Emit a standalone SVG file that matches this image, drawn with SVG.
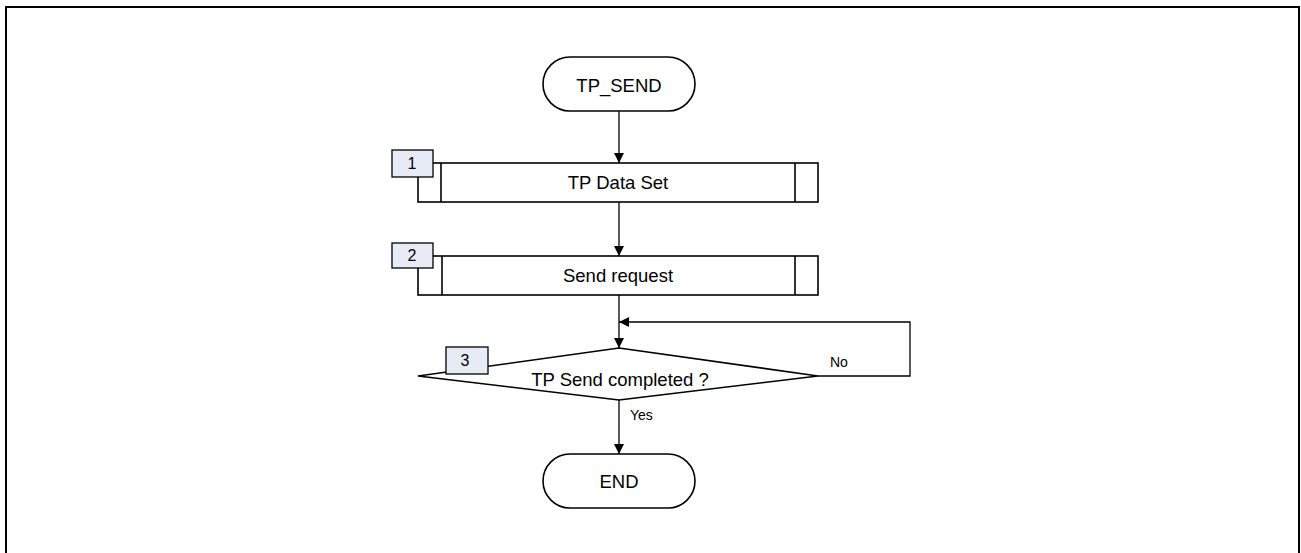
<svg xmlns="http://www.w3.org/2000/svg" width="1301" height="553" viewBox="0 0 1301 553">
<style>
.frame{fill:none;stroke:#000;stroke-width:2}
.shape{fill:#fff;stroke:#000;stroke-width:1.6}
.badge{fill:#e6ebf5;stroke:#000;stroke-width:1.3}
.main{font-family:"Liberation Sans",Arial,sans-serif;font-size:18.5px;fill:#000;text-anchor:middle}
.num{font-family:"Liberation Sans",Arial,sans-serif;font-size:16px;fill:#000;text-anchor:middle}
.lbl{font-family:"Liberation Sans",Arial,sans-serif;font-size:14px;fill:#000}
.conn{fill:none;stroke:#000;stroke-width:1.3}
</style>
<defs>
<marker id="arr" viewBox="0 0 10 10" refX="10" refY="5" markerWidth="10" markerHeight="10" markerUnits="userSpaceOnUse" orient="auto">
<path d="M0,0 L10,5 L0,10 Z" fill="#000"/>
</marker>
</defs>
<rect class="frame" x="6" y="7" width="1293" height="560"/>
<g id="connectors">
<line class="conn" x1="619" y1="111" x2="619" y2="163" marker-end="url(#arr)"/>
<line class="conn" x1="619" y1="202" x2="619" y2="256" marker-end="url(#arr)"/>
<line class="conn" x1="619" y1="295" x2="619" y2="348" marker-end="url(#arr)"/>
<polyline class="conn" points="818,376 910,376 910,322 619,322" marker-end="url(#arr)"/>
<line class="conn" x1="619" y1="400" x2="619" y2="454" marker-end="url(#arr)"/>
<text class="lbl" x="830" y="367">No</text>
<text class="lbl" x="630" y="420">Yes</text>
</g>
<g id="start">
<rect class="shape" x="543" y="57" width="152" height="54" rx="27" ry="27"/>
<text class="main" x="619" y="92">TP_SEND</text>
</g>
<g id="step1">
<rect class="shape" x="418" y="163" width="400" height="39"/>
<line class="shape" x1="441" y1="163" x2="441" y2="202"/>
<line class="shape" x1="795" y1="163" x2="795" y2="202"/>
<text class="main" x="618" y="189">TP Data Set</text>
<rect class="badge" x="392" y="150" width="41" height="27"/>
<text class="num" x="412" y="169">1</text>
</g>
<g id="step2">
<rect class="shape" x="418" y="256" width="400" height="39"/>
<line class="shape" x1="442" y1="256" x2="442" y2="295"/>
<line class="shape" x1="795" y1="256" x2="795" y2="295"/>
<text class="main" x="618" y="282">Send request</text>
<rect class="badge" x="392" y="243" width="41" height="25"/>
<text class="num" x="412" y="261">2</text>
</g>
<g id="decision3">
<polygon class="shape" points="619,348 818,376 619,400 418,376"/>
<text class="main" x="620" y="386">TP Send completed ?</text>
<rect class="badge" x="446" y="347" width="42" height="27"/>
<text class="num" x="465" y="366">3</text>
</g>
<g id="end">
<rect class="shape" x="543" y="454" width="152" height="54" rx="27" ry="27"/>
<text class="main" x="619" y="488">END</text>
</g>
</svg>
